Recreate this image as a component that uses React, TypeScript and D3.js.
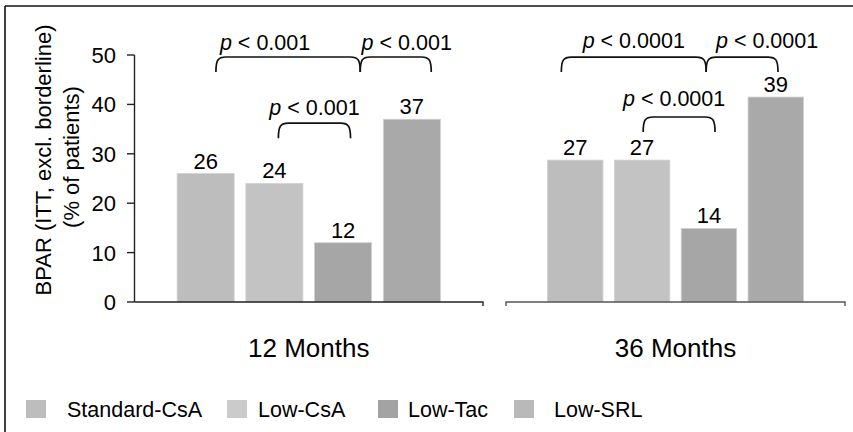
import React from "react";
import * as d3 from "d3";

const groups = ["Standard-CsA", "Low-CsA", "Low-Tac", "Low-SRL"];
const periods = ["12 Months", "36 Months"];
const values12 = [26, 24, 12, 37];
const values36 = [27, 27, 14, 39];
const yTicks = [0, 10, 20, 30, 40, 50];
// hidden axis maximum of each panel as drawn in the source figure
const panelMax = [50, 47];
const barColors = ["#bdbdbd", "#c3c3c3", "#a6a6a6", "#a9a9a9"];
const legendColors = ["#bdbdbd", "#cbcbcb", "#a3a3a3", "#b9b9b9"];
const pLabels12 = ["0.001", "0.001", "0.001"];
const pLabels36 = ["0.0001", "0.0001", "0.0001"];

// brackets: [fromBar, fromFrac, toBar, toFrac, level(value), labelDx, labelDy]
const brackets12: [number, number, number, number, number, number, number][] = [
  [0, 0.68, 2, 0.8, 49.6, -23, -7],
  [2, 0.8, 3, 0.84, 49.6, 11, -7],
  [1, 0.57, 2, 0.63, 36.2, 0, -8],
];
const brackets36: [number, number, number, number, number, number, number][] = [
  [0, 0.25, 2, 0.45, 46.6, 0, -9],
  [2, 0.45, 3, 0.54, 46.6, 25, -9],
  [1, 0.52, 2, 0.61, 35.2, -5, -11],
];

const W = 853;
const H = 432;
const FONT = "'Liberation Sans', Arial, sans-serif";
const yTop = 55;
const yBottom = 302;
const panelRanges: [number, number][] = [
  [134.5, 483],
  [506, 845],
];
const legendLayout = [
  [26, 67],
  [227, 258],
  [378, 408],
  [514, 554],
];

function bracketPath(x0: number, x1: number, yt: number, yb: number) {
  const r = Math.min(10, (x1 - x0) / 4);
  return `M${x0},${yb} C${x0},${yt + 3} ${x0 + 2},${yt} ${x0 + r},${yt} L${x1 - r},${yt} C${x1 - 2},${yt} ${x1},${yt + 3} ${x1},${yb}`;
}

export default function App() {
  const panels = [
    { values: values12, brackets: brackets12, pl: pLabels12 },
    { values: values36, brackets: brackets36, pl: pLabels36 },
  ];
  const yAxis = d3.scaleLinear().domain([0, panelMax[0]]).range([yBottom, yTop]);

  return (
    <div style={{ position: "absolute", left: 0, top: 0 }}>
      <svg width={W} height={H} style={{ display: "block", background: "#fff" }} fontFamily={FONT}>
        <rect x={0} y={0} width={W} height={H} fill="#fff" />
        {/* frame */}
        <line x1={5} y1={6} x2={W} y2={6} stroke="#111" strokeWidth={1.6} />
        <line x1={5} y1={6} x2={5} y2={H} stroke="#111" strokeWidth={1.6} />

        {/* y axis label */}
        <g transform={`translate(51, 160) rotate(-90)`}>
          <text textAnchor="middle" fontSize={22} fill="#000">BPAR (ITT, excl. borderline)</text>
        </g>
        <g transform={`translate(79, 157) rotate(-90)`}>
          <text textAnchor="middle" fontSize={22} fill="#000">(% of patients)</text>
        </g>

        {/* y axis */}
        <line x1={panelRanges[0][0]} y1={yAxis(50)} x2={panelRanges[0][0]} y2={yAxis(0)} stroke="#222" strokeWidth={1.4} />
        {yTicks.map((t) => (
          <g key={t}>
            <line x1={127} x2={panelRanges[0][0]} y1={yAxis(t)} y2={yAxis(t)} stroke="#222" strokeWidth={1.4} />
            <text x={116} y={yAxis(t)} dy="0.36em" textAnchor="end" fontSize={22} fill="#000">{t}</text>
          </g>
        ))}

        {panels.map((p, pi) => {
          const [r0, r1] = panelRanges[pi];
          const x = d3.scaleBand<string>().domain(groups).range([r0, r1]).paddingInner(0.17).paddingOuter(0.62);
          const y = d3.scaleLinear().domain([0, panelMax[pi]]).range([yBottom, yTop]);
          const bw = x.bandwidth();
          const bx = (i: number, f: number) => (x(groups[i]) as number) + f * bw;
          return (
            <g key={pi}>
              {p.values.map((v, i) => (
                <g key={i}>
                  <rect x={x(groups[i])} y={y(v)} width={bw} height={y(0) - y(v)} fill={barColors[i]} stroke="#d2d2d2" strokeWidth={0.8} />
                  <text x={(x(groups[i]) as number) + bw / 2} y={y(v) - 5} textAnchor="middle" fontSize={22} fill="#000">{v}</text>
                </g>
              ))}
              {/* baseline */}
              <path
                d={pi === 0
                  ? `M${r0},${yBottom} L${r1},${yBottom} L${r1},${yBottom + 4}`
                  : `M${r0},${yBottom + 4} L${r0},${yBottom} L${r1},${yBottom} L${r1},${yBottom + 4}`}
                fill="none"
                stroke={pi === 0 ? "#222" : "#555"}
                strokeWidth={1.4}
              />
              <text x={(r0 + r1) / 2} y={357} textAnchor="middle" fontSize={26} fill="#000">{periods[pi]}</text>
              {p.brackets.map((b, bi) => {
                const x0 = bx(b[0], b[1]);
                const x1 = bx(b[2], b[3]);
                const yt = y(b[4]);
                const yb = yt + 15;
                return (
                  <g key={bi}>
                    <path d={bracketPath(x0, x1, yt, yb)} fill="none" stroke="#111" strokeWidth={1.7} />
                    <text x={(x0 + x1) / 2 + b[5]} y={yt + b[6]} textAnchor="middle" fontSize={21.5} fill="#000">
                      <tspan fontStyle="italic">p</tspan>
                      <tspan>{` < ${p.pl[bi]}`}</tspan>
                    </text>
                  </g>
                );
              })}
            </g>
          );
        })}

        {/* legend */}
        {groups.map((g, i) => (
          <g key={g}>
            <rect x={legendLayout[i][0]} y={400} width={20} height={18} fill={legendColors[i]} />
            <text x={legendLayout[i][1]} y={417} fontSize={21.5} fill="#000">{g}</text>
          </g>
        ))}
      </svg>
    </div>
  );
}
